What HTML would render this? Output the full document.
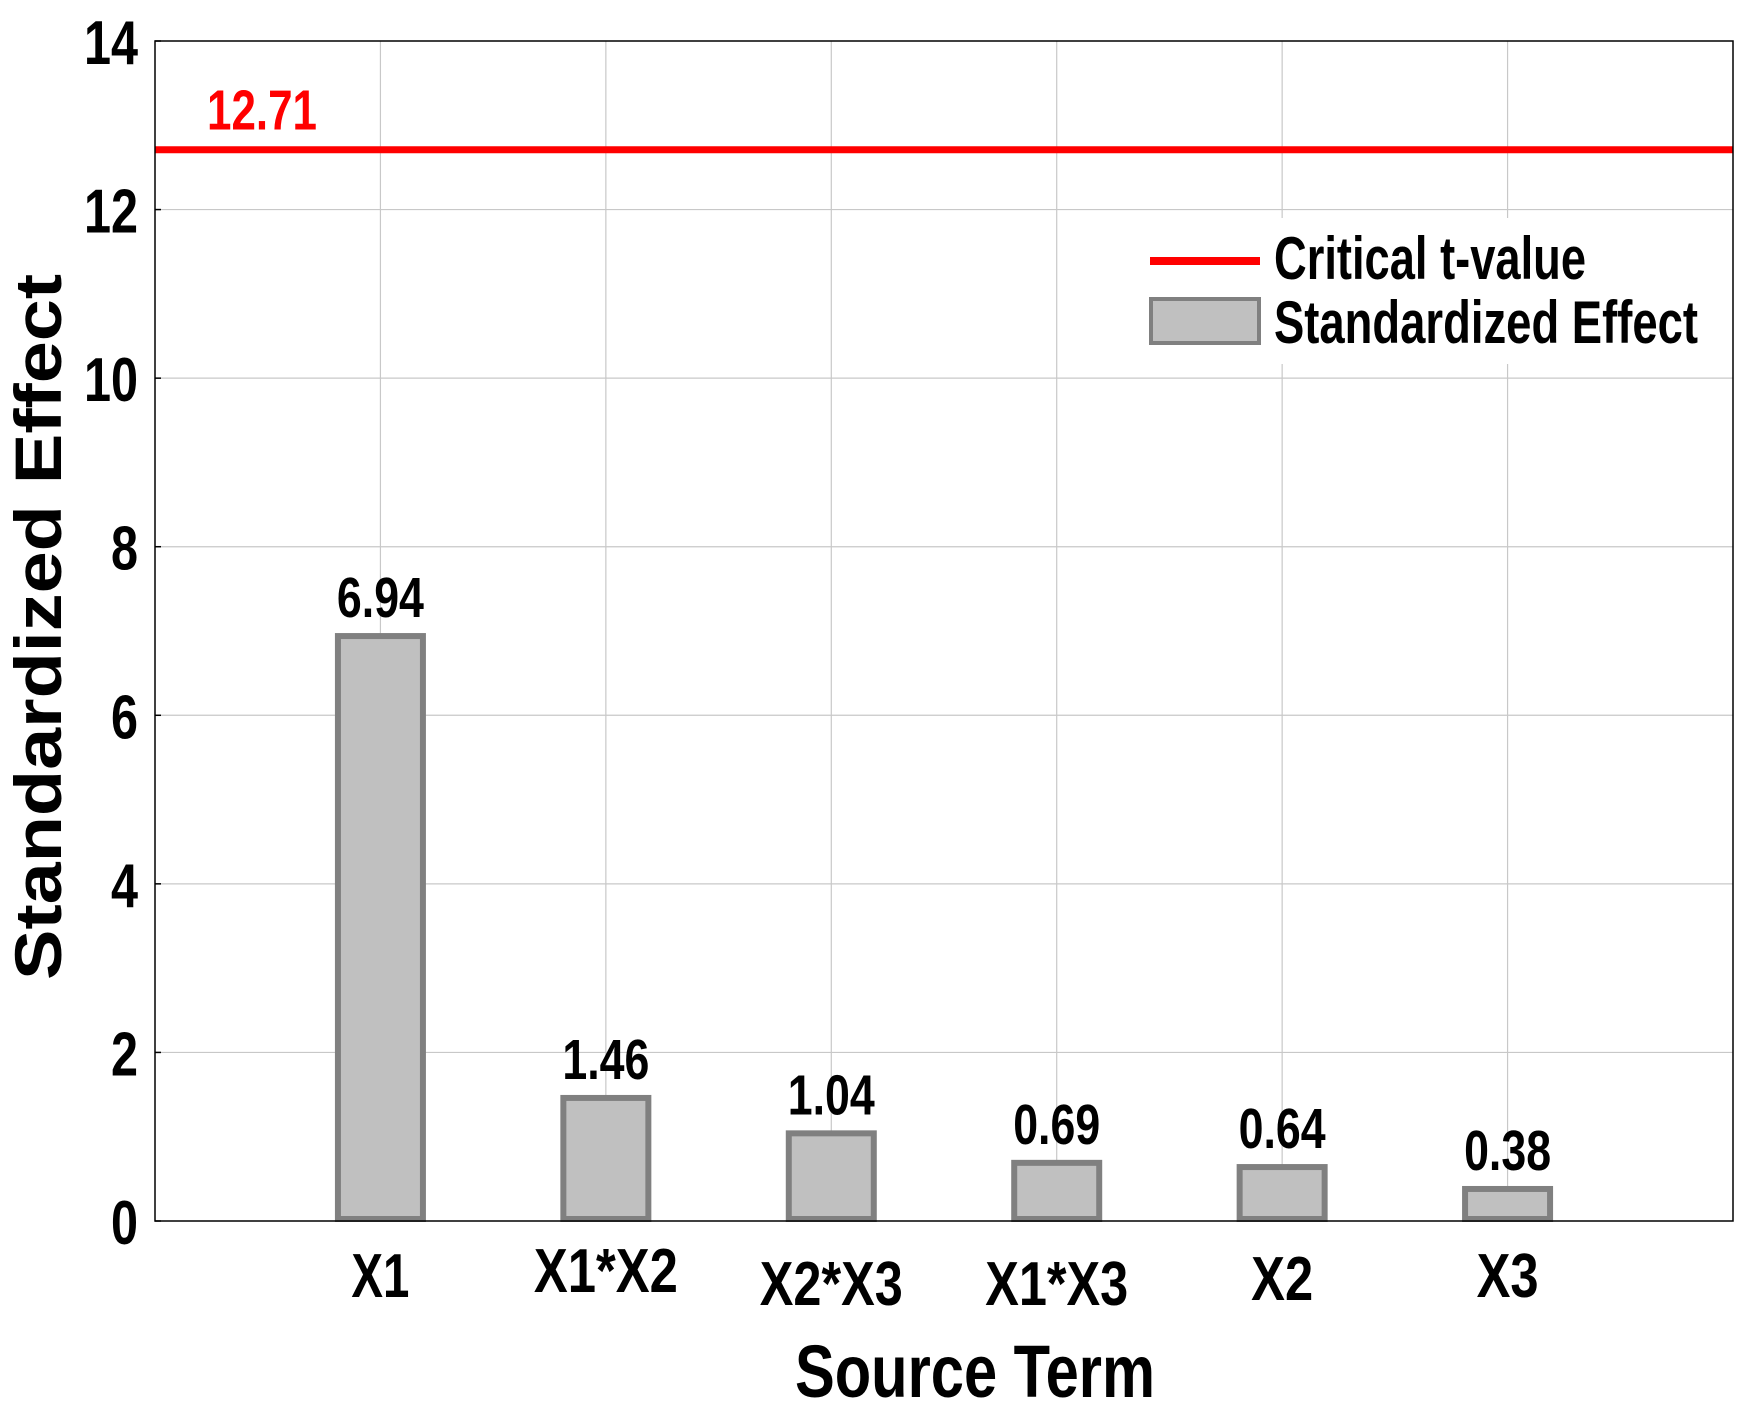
<!DOCTYPE html>
<html><head><meta charset="utf-8"><style>
html,body{margin:0;padding:0;background:#fff;}
svg{display:block;font-family:"Liberation Sans",Arial,sans-serif;font-weight:bold;}
</style></head><body>
<svg id="chart" width="1757" height="1415" viewBox="0 0 1757 1415" xmlns="http://www.w3.org/2000/svg">
<g id="grid"></g>
<g id="bars"></g>
<g id="axes"></g>
</svg>
<script>
const categories = ["X1", "X1*X2", "X2*X3", "X1*X3", "X2", "X3"];
const effects = [6.94, 1.46, 1.04, 0.69, 0.64, 0.38];
const valueLabels = ["6.94", "1.46", "1.04", "0.69", "0.64", "0.38"];
const criticalValue = 12.71;
const criticalLabel = "12.71";
const yTicks = [0, 2, 4, 6, 8, 10, 12, 14];

const NS = "http://www.w3.org/2000/svg";
const L = 155, R = 1733, T = 41, B = 1221;
const yMax = 14, xMax = 7;
const yS = v => B - v * (B - T) / yMax;
const xS = v => L + v * (R - L) / xMax;
const xLabelBaseline = [1297, 1292, 1305, 1305, 1300, 1297];
const xLabelWidth = [58, 144, 143, 143, 62, 62];
const valWidth = [87, 87, 87, 87, 87, 87];

function mk(tag, attrs, parent, text) {
  const e = document.createElementNS(NS, tag);
  for (const k in attrs) e.setAttribute(k, attrs[k]);
  if (text !== undefined) e.textContent = text;
  parent.appendChild(e);
  return e;
}
const grid = document.getElementById('grid');
const bars = document.getElementById('bars');
const axes = document.getElementById('axes');

yTicks.forEach(v => {
  if (v > 0 && v < yMax) {
    const g = mk('line', {x1: L, x2: R, y1: yS(v), y2: yS(v), stroke: '#c8c8c8', 'stroke-width': 1.2}, grid);
    
    
  }
  const tk = mk('line', {x1: L, x2: L + 6, y1: yS(v), y2: yS(v), stroke: '#000', 'stroke-width': 1.5}, axes);
  
  
  const t = mk('text', {x: 138, y: yS(v) + 23, 'text-anchor': 'end', 'font-size': 62, textLength: String(v).length * 27, lengthAdjust: 'spacingAndGlyphs'}, axes, String(v));
  
  
});
categories.forEach((c, i) => {
  const g = mk('line', {x1: xS(i + 1), x2: xS(i + 1), y1: T, y2: B, stroke: '#c8c8c8', 'stroke-width': 1.2}, grid);
  
  
});
const bw = 85;
effects.forEach((v, i) => {
  const cx = xS(i + 1);
  const r = mk('rect', {x: cx - bw / 2, y: yS(v), width: bw, height: B - yS(v) - 2, fill: '#c0c0c0', stroke: '#808080', 'stroke-width': 6}, bars);
  
  
  const vl = mk('text', {x: cx, y: yS(v) - 19, 'text-anchor': 'middle', 'font-size': 57, textLength: valWidth[i], lengthAdjust: 'spacingAndGlyphs'}, bars, valueLabels[i]);
  
  
  const xl = mk('text', {x: cx, y: xLabelBaseline[i], 'text-anchor': 'middle', 'font-size': 62, textLength: xLabelWidth[i], lengthAdjust: 'spacingAndGlyphs'}, axes, categories[i]);
  
  
});
const lb = mk('rect', {x: 1126, y: 218, width: 595, height: 146, fill: '#fff'}, bars);


const cl = mk('line', {x1: L, x2: R, y1: yS(criticalValue), y2: yS(criticalValue), stroke: '#ff0000', 'stroke-width': 7}, axes);


const ct = mk('text', {x: 207, y: yS(criticalValue) - 20, fill: '#ff0000', 'font-size': 57, textLength: 110, lengthAdjust: 'spacingAndGlyphs'}, axes, criticalLabel);


const fr = mk('rect', {x: L, y: T, width: R - L, height: B - T, fill: 'none', stroke: '#000', 'stroke-width': 1.5}, axes);


const lg = mk('g', {}, axes);


const l1 = mk('line', {x1: 1150, x2: 1260, y1: 261, y2: 261, stroke: '#ff0000', 'stroke-width': 8}, lg);


const lt1 = mk('text', {x: 1274, y: 279, 'font-size': 60, textLength: 312, lengthAdjust: 'spacingAndGlyphs'}, lg, 'Critical t-value');


const l2 = mk('rect', {x: 1151, y: 299, width: 108, height: 44, fill: '#c0c0c0', stroke: '#808080', 'stroke-width': 4}, lg);


const lt2 = mk('text', {x: 1274, y: 343, 'font-size': 60, textLength: 424, lengthAdjust: 'spacingAndGlyphs'}, lg, 'Standardized Effect');


const xt = mk('text', {x: 975, y: 1397, 'text-anchor': 'middle', 'font-size': 74, textLength: 360, lengthAdjust: 'spacingAndGlyphs'}, axes, 'Source Term');


const yt = mk('text', {x: 0, y: 0, 'text-anchor': 'middle', 'font-size': 66, textLength: 706, lengthAdjust: 'spacingAndGlyphs', transform: 'translate(61,627) rotate(-90)'}, axes, 'Standardized Effect');


</script>
</body></html>
